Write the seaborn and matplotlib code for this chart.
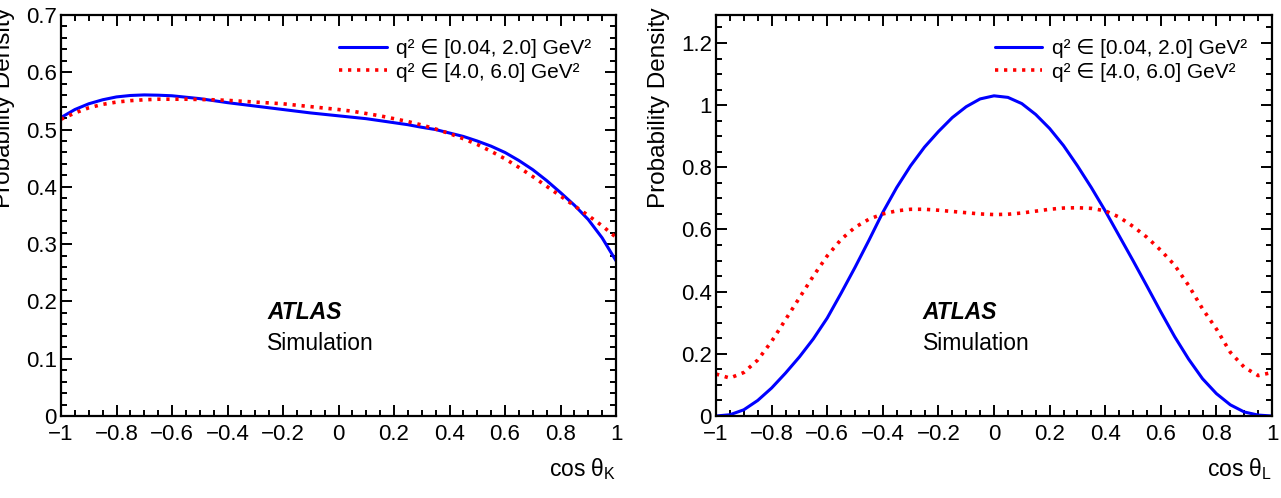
import numpy as np
import pandas as pd
import matplotlib
matplotlib.use("Agg")
import matplotlib.pyplot as plt
from matplotlib.ticker import MultipleLocator
import seaborn as sns

# cos(theta_K) panel, values
cosk = [-1.0, -0.95, -0.9, -0.85, -0.8, -0.75, -0.7, -0.65, -0.6, -0.55, -0.5,
        -0.45, -0.4, -0.35, -0.3, -0.25, -0.2, -0.15, -0.1, -0.05, 0.0,
        0.05, 0.1, 0.15, 0.2, 0.25, 0.3, 0.35, 0.4, 0.45, 0.5,
        0.55, 0.6, 0.65, 0.7, 0.75, 0.8, 0.85, 0.9, 0.95, 1.0]
k_low = [0.521, 0.535, 0.545, 0.552, 0.557, 0.5595, 0.5605, 0.560, 0.559, 0.5565, 0.554,
         0.5505, 0.547, 0.544, 0.541, 0.538, 0.535, 0.532, 0.529, 0.5265, 0.524,
         0.5215, 0.519, 0.5155, 0.512, 0.5085, 0.504, 0.500, 0.494, 0.488, 0.480,
         0.471, 0.460, 0.446, 0.430, 0.411, 0.390, 0.368, 0.343, 0.311, 0.271]
k_high = [0.518, 0.529, 0.538, 0.544, 0.548, 0.5505, 0.552, 0.553, 0.553, 0.553, 0.5525,
          0.552, 0.551, 0.5495, 0.548, 0.5465, 0.545, 0.5425, 0.540, 0.5375, 0.535,
          0.532, 0.528, 0.524, 0.519, 0.514, 0.508, 0.501, 0.493, 0.484, 0.474,
          0.462, 0.449, 0.434, 0.418, 0.401, 0.384, 0.367, 0.350, 0.332, 0.312]

# cos(theta_L) panel
cosl = [-1.0, -0.95, -0.9, -0.85, -0.8, -0.75, -0.7, -0.65, -0.6, -0.55, -0.5,
        -0.45, -0.4, -0.35, -0.3, -0.25, -0.2, -0.15, -0.1, -0.05, 0.0,
        0.05, 0.1, 0.15, 0.2, 0.25, 0.3, 0.35, 0.4, 0.45, 0.5,
        0.55, 0.6, 0.65, 0.7, 0.75, 0.8, 0.85, 0.9, 0.95, 1.0]
l_low = [0.000, 0.004, 0.020, 0.050, 0.090, 0.138, 0.190, 0.248, 0.315, 0.395, 0.478,
         0.565, 0.655, 0.735, 0.805, 0.865, 0.915, 0.960, 0.995, 1.020, 1.030,
         1.025, 1.005, 0.970, 0.925, 0.870, 0.805, 0.735, 0.660, 0.580, 0.500,
         0.418, 0.335, 0.255, 0.183, 0.120, 0.072, 0.036, 0.013, 0.003, 0.000]
l_high = [0.135, 0.122, 0.140, 0.180, 0.240, 0.310, 0.380, 0.450, 0.515, 0.568, 0.607,
          0.633, 0.650, 0.660, 0.665, 0.665, 0.662, 0.658, 0.654, 0.650, 0.648,
          0.649, 0.653, 0.659, 0.665, 0.669, 0.670, 0.668, 0.660, 0.640, 0.610,
          0.575, 0.533, 0.485, 0.420, 0.345, 0.280, 0.205, 0.157, 0.130, 0.140]

lab_low = "q² ∈ [0.04, 2.0] GeV²"
lab_high = "q² ∈ [4.0, 6.0] GeV²"

sns.set_theme(style="ticks")
plt.rcParams["font.family"] = ["Liberation Sans", "DejaVu Sans"]
plt.rcParams["mathtext.fontset"] = "custom"
plt.rcParams["mathtext.rm"] = "Liberation Sans"
plt.rcParams["mathtext.fallback"] = "stixsans"
plt.rcParams["text.color"] = "black"
plt.rcParams["axes.labelcolor"] = "black"

fig = plt.figure(figsize=(12.81, 4.98), dpi=100)
ax1 = fig.add_axes([61 / 1281, 82 / 498, 555 / 1281, 401 / 498])
ax2 = fig.add_axes([716 / 1281, 82 / 498, 556 / 1281, 401 / 498])


def fmt(v, pos):
    return f"{round(v, 4) + 0:g}".replace("-", "\u2212")


def draw(ax, x, lo, hi, ymax, ymaj, ymin, xlab):
    df = pd.DataFrame({"x": x, "lo": lo, "hi": hi})
    sns.lineplot(data=df, x="x", y="lo", ax=ax, color="#0000ff", lw=2.2,
                 label=lab_low, estimator=None, sort=False)
    sns.lineplot(data=df, x="x", y="hi", ax=ax, color="#ff0000", lw=2.6,
                 linestyle=(0, (0.9, 1.6)), label=lab_high, estimator=None, sort=False)
    ax.set_xlim(-1, 1)
    ax.set_ylim(0, ymax)
    ax.xaxis.set_major_locator(MultipleLocator(0.2))
    ax.xaxis.set_minor_locator(MultipleLocator(0.05))
    ax.yaxis.set_major_locator(MultipleLocator(ymaj))
    ax.yaxis.set_minor_locator(MultipleLocator(ymin))
    ax.xaxis.set_major_formatter(plt.FuncFormatter(fmt))
    ax.yaxis.set_major_formatter(plt.FuncFormatter(fmt))
    ax.tick_params(which="both", direction="in", top=True, right=True,
                   width=1.4, labelsize=16, colors="black")
    ax.tick_params(which="major", length=8, pad=3)
    ax.tick_params(axis="x", which="major", pad=6)
    ax.tick_params(which="minor", length=4)
    for s in ax.spines.values():
        s.set_linewidth(1.6)
        s.set_color("black")
    ax.set_xlabel(xlab, fontsize=16.5, loc="right")
    ax.xaxis.set_label_coords(1.0, -0.1)
    ax.set_ylabel("Probability Density", fontsize=17.5, loc="top")
    ax.yaxis.set_label_coords(-0.083, 1.02)
    ax.text(0.372, 0.259, "ATLAS", transform=ax.transAxes, fontsize=16.5,
            fontweight="bold", fontstyle="italic", va="center")
    ax.text(0.372, 0.182, "Simulation", transform=ax.transAxes,
            fontsize=16.5, va="center")
    ax.legend(loc="upper right", bbox_to_anchor=(0.955, 0.94), frameon=False,
              fontsize=15, handlelength=2.3, handletextpad=0.45,
              labelspacing=0.22, borderaxespad=0.0, borderpad=0.0)


draw(ax1, cosk, k_low, k_high, 0.7, 0.1, 0.02, r"cos θ$_\mathregular{K}$")
draw(ax2, cosl, l_low, l_high, 1.29, 0.2, 0.05, r"cos θ$_\mathregular{L}$")

fig.savefig("out.png", dpi=100)
